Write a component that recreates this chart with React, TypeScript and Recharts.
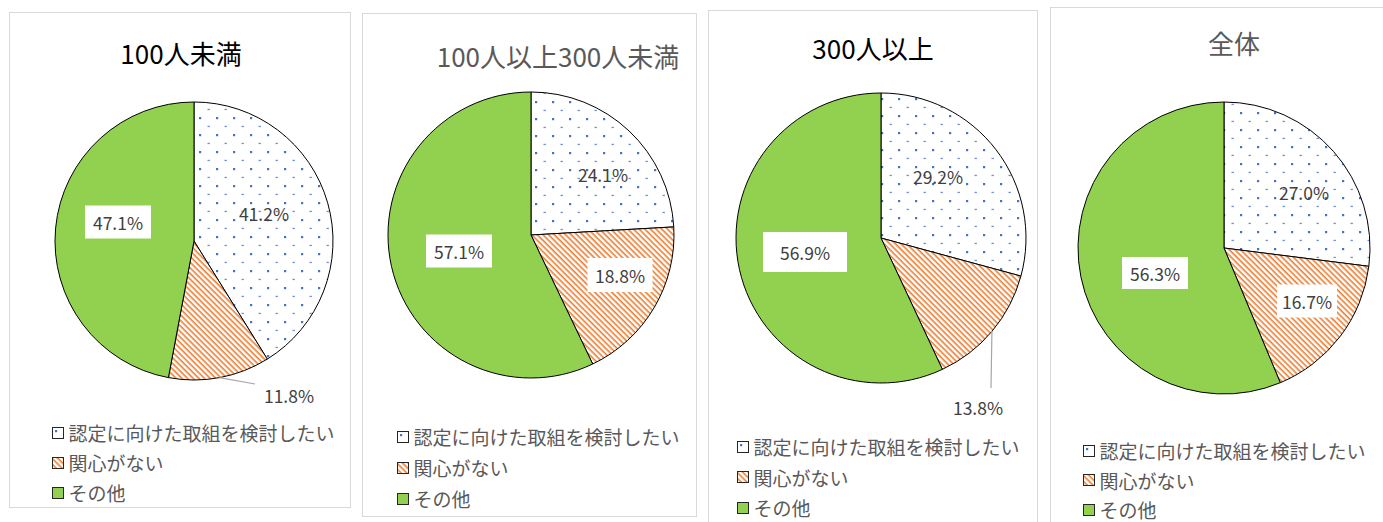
import React from "react";
import { Cell, Pie, PieChart } from "recharts";

const categories = ["認定に向けた取組を検討したい", "関心がない", "その他"];
const titles = ["100人未満", "100人以上300人未満", "300人以上", "全体"];
const under100 = [41.2, 11.8, 47.1];
const from100to300 = [24.1, 18.8, 57.1];
const over300 = [29.2, 13.8, 56.9];
const overall = [27.0, 16.7, 56.3];

const seriesList = [under100, from100to300, over300, overall];
const fills = ["url(#dots)", "url(#hatch)", "#92d050"];
const FONT = '"Noto Sans CJK JP", "Noto Sans", sans-serif';

type LabelCfg = { dx: number; dy: number; box?: [number, number]; leader?: [number, number] };
type PanelCfg = {
  left: number;
  top: number;
  width: number;
  height: number;
  cx: number;
  cy: number;
  r: number;
  titleX: number;
  titleY: number;
  titleColor: string;
  legendX: number;
  legendY: number;
  legendStep: number;
  labels: LabelCfg[];
};

const panels: PanelCfg[] = [
  {
    left: 9, top: 12, width: 342, height: 496, cx: 185, cy: 229, r: 139,
    titleX: 171, titleY: 40, titleColor: "#000000",
    legendX: 43, legendY: 421, legendStep: 30,
    labels: [{ dx: 70, dy: -28 }, { dx: 95, dy: 154, leader: [61, 143] }, { dx: -76, dy: -19, box: [66, 33] }],
  },
  {
    left: 362, top: 13, width: 335, height: 504, cx: 169, cy: 222, r: 143,
    titleX: 195, titleY: 42, titleColor: "#595959",
    legendX: 35, legendY: 424, legendStep: 31,
    labels: [{ dx: 72, dy: -61 }, { dx: 89, dy: 40, box: [65, 34] }, { dx: -72, dy: 16, box: [66, 33] }],
  },
  {
    left: 708, top: 10, width: 330, height: 530, cx: 173, cy: 228, r: 145,
    titleX: 164, titleY: 37, titleColor: "#000000",
    legendX: 29, legendY: 437, legendStep: 30.5,
    labels: [{ dx: 57, dy: -62 }, { dx: 97, dy: 169, leader: [110, 150] }, { dx: -76, dy: 14, box: [84, 40] }],
  },
  {
    left: 1050, top: 7, width: 345, height: 530, cx: 174, cy: 241, r: 146,
    titleX: 183, titleY: 35, titleColor: "#595959",
    legendX: 33, legendY: 444, legendStep: 29.5,
    labels: [{ dx: 80, dy: -56 }, { dx: 83, dy: 53, box: [60, 33] }, { dx: -69, dy: 25, box: [66, 32] }],
  },
];

const RAD = Math.PI / 180;

function makeLabel(cfg: PanelCfg) {
  return (props: any) => {
    const { cx, cy, midAngle, outerRadius, index, value } = props;
    const lab = cfg.labels[index];
    const x = cx + lab.dx;
    const y = cy + lab.dy;
    const text = `${Number(value).toFixed(1)}%`;
    return (
      <g key={`lbl-${index}`}>
        {lab.leader && (
          <polyline
            points={`${cx + outerRadius * Math.cos(-midAngle * RAD)},${cy + outerRadius * Math.sin(-midAngle * RAD)} ${cx + lab.leader[0]},${cy + lab.leader[1]}`}
            fill="none"
            stroke="#a6a6a6"
            strokeWidth={1.2}
          />
        )}
        {lab.box && (
          <rect x={x - lab.box[0] / 2} y={y - lab.box[1] / 2} width={lab.box[0]} height={lab.box[1]} fill="#ffffff" />
        )}
        <text x={x} y={y} textAnchor="middle" dominantBaseline="central" fill="#404040" fontSize={17.5} fontFamily={FONT}>
          {text}
        </text>
      </g>
    );
  };
}

function Patterns() {
  return (
    <svg width={0} height={0} style={{ position: "absolute" }}>
      <defs>
        <pattern id="dots" width={17} height={17} patternUnits="userSpaceOnUse">
          <rect width={17} height={17} fill="#ffffff" />
          <rect x={3} y={3} width={2.2} height={2.2} fill="#4472c4" />
          <rect x={11.5} y={11.8} width={2.4} height={1.3} fill="#6f93d4" />
        </pattern>
        <pattern id="hatch" width={4} height={4} patternUnits="userSpaceOnUse" patternTransform="rotate(45)">
          <rect width={4} height={4} fill="#ffffff" />
          <rect width={4} height={1.6} fill="#ed7d31" />
        </pattern>
      </defs>
    </svg>
  );
}

function Panel({ cfg, title, values }: { cfg: PanelCfg; title: string; values: number[] }) {
  const data = categories.map((name, i) => ({ name, value: values[i] }));
  return (
    <div
      style={{
        position: "absolute",
        left: cfg.left,
        top: cfg.top,
        width: cfg.width,
        height: cfg.height,
        border: "1.5px solid #d9d9d9",
        boxSizing: "border-box",
        background: "#ffffff",
      }}
    >
      <div
        style={{
          position: "absolute",
          left: cfg.titleX - 150,
          top: cfg.titleY - 18,
          width: 300,
          height: 36,
          lineHeight: "36px",
          textAlign: "center",
          fontSize: 26,
          color: cfg.titleColor,
          fontFamily: FONT,
          whiteSpace: "nowrap",
        }}
      >
        {title}
      </div>
      <div style={{ position: "absolute", left: -1.5, top: -1.5 }}>
        <PieChart width={cfg.width} height={cfg.height} margin={{ top: 0, right: 0, bottom: 0, left: 0 }}>
          <Pie
            data={data}
            dataKey="value"
            nameKey="name"
            cx={cfg.cx}
            cy={cfg.cy}
            outerRadius={cfg.r}
            startAngle={90}
            endAngle={-270}
            stroke="#000000"
            strokeWidth={1}
            label={makeLabel(cfg)}
            labelLine={false}
            isAnimationActive={false}
          >
            {data.map((d, i) => (
              <Cell key={d.name} fill={fills[i]} />
            ))}
          </Pie>
        </PieChart>
      </div>
      {categories.map((name, i) => (
        <div
          key={name}
          style={{
            position: "absolute",
            left: cfg.legendX - 1.5,
            top: cfg.legendY + i * cfg.legendStep - 14 - 1.5,
            height: 28,
            display: "flex",
            alignItems: "center",
            fontSize: 19,
            color: "#595959",
            fontFamily: FONT,
            whiteSpace: "nowrap",
          }}
        >
          <svg width={12} height={12} style={{ marginRight: 5 }}>
            <rect x={0.5} y={0.5} width={11} height={11} fill={fills[i]} stroke="#262626" strokeWidth={1} />
          </svg>
          {name}
        </div>
      ))}
    </div>
  );
}

export default function App() {
  return (
    <div style={{ position: "absolute", left: 0, top: 0, width: 1383, height: 522, overflow: "hidden", background: "#ffffff" }}>
      <Patterns />
      {panels.map((cfg, i) => (
        <Panel key={titles[i]} cfg={cfg} title={titles[i]} values={seriesList[i]} />
      ))}
    </div>
  );
}
